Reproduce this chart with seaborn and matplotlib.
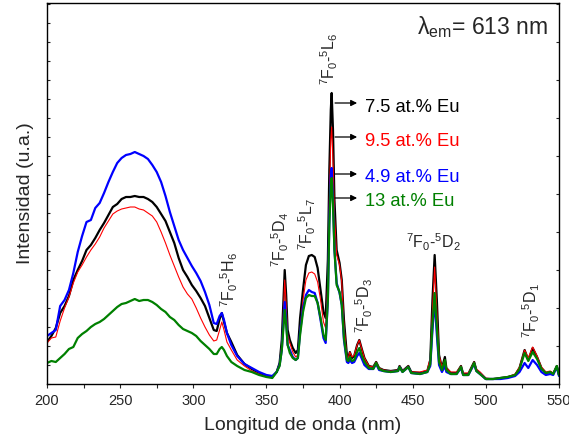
import numpy as np
import pandas as pd
import matplotlib
matplotlib.use("Agg")
import matplotlib.pyplot as plt
from matplotlib.ticker import MultipleLocator, NullFormatter
import seaborn as sns

# ---------------- data (arbitrary intensity units) ----------------
wavelength = [200, 203, 206, 209, 212, 215, 218, 221, 224, 227,
              230, 233, 236, 239, 242, 245, 248, 251, 254, 257,
              260, 263, 266, 269, 272, 275, 278, 281, 284, 287,
              290, 293, 296, 299, 302, 305, 308, 311, 314, 316,
              318, 319.5, 321, 323, 326, 330, 335, 340, 345, 350,
              354, 357, 359, 360.5, 361.5, 362.5, 363.5, 364.5, 366, 368,
              370, 371.5, 373, 375, 377, 379, 381, 383, 385, 387,
              389, 390.5, 392, 393, 394, 394.6, 395.5, 396.5, 398, 400,
              401.5, 403, 405, 406, 407, 408.5, 410, 412, 413.5, 415,
              417, 420, 423, 425, 427, 430, 435, 440, 441, 443,
              447, 449, 455, 460, 462, 463.5, 465, 466.5, 468, 470,
              472, 473, 476, 480, 483, 484.5, 488, 492, 493.5, 496,
              500, 505, 510, 515, 520, 523, 526.5, 529, 532, 535,
              538, 541, 544, 546, 548.5, 550]

eu_7_5 = [42, 48, 56, 71, 78, 88, 104, 114, 123, 134,
          139, 146, 154, 161, 169, 177, 180, 185, 187, 187,
          188, 187, 187, 185, 182, 177, 170, 163, 152, 141,
          126, 114, 107, 99, 93, 86, 78, 66, 54, 53,
          65, 71, 62, 51, 42, 29, 20, 15, 11, 8,
          7, 12, 21, 44, 79, 114, 89, 54, 44, 36,
          31, 34, 66, 94, 119, 128, 129, 127, 116, 94,
          72, 66, 124, 214, 274, 291, 254, 184, 134, 121,
          104, 64, 29, 26, 32, 26, 28, 39, 44, 36,
          26, 18, 17, 22, 16, 14, 13, 14, 18, 13,
          18, 12, 11, 13, 24, 84, 129, 84, 29, 16,
          27, 16, 11, 11, 18, 10, 10, 22, 14, 11,
          5, 5, 6, 7, 9, 16, 34, 24, 36, 27,
          16, 11, 12, 10, 18, 9]

eu_9_5 = [41, 46, 47, 63, 76, 87, 101, 112, 119, 127,
          134, 140, 147, 156, 163, 170, 173, 175, 176, 177,
          177, 175, 174, 171, 168, 162, 152, 141, 129, 118,
          107, 97, 90, 85, 76, 66, 57, 49, 43, 44,
          54, 62, 54, 42, 34, 24, 18, 13, 10, 7,
          7, 12, 20, 39, 69, 104, 79, 49, 41, 32,
          27, 29, 54, 84, 104, 111, 112, 110, 102, 84,
          62, 56, 104, 184, 244, 257, 224, 169, 129, 119,
          102, 59, 27, 26, 32, 27, 29, 39, 44, 36,
          26, 18, 17, 22, 16, 14, 13, 14, 18, 13,
          18, 12, 12, 14, 26, 74, 117, 74, 29, 17,
          24, 16, 12, 12, 18, 11, 11, 22, 15, 12,
          6, 5, 6, 7, 10, 17, 34, 26, 37, 28,
          17, 12, 13, 11, 18, 9]

eu_4_9 = [48, 51, 54, 78, 84, 94, 111, 132, 148, 162,
          164, 176, 181, 191, 202, 212, 221, 226, 229, 230,
          232, 230, 228, 225, 219, 212, 202, 188, 172, 158,
          144, 134, 126, 118, 111, 103, 92, 79, 61, 60,
          68, 71, 64, 51, 39, 28, 20, 16, 12, 9,
          8, 12, 19, 34, 59, 82, 64, 39, 34, 27,
          24, 26, 52, 76, 89, 94, 92, 91, 81, 64,
          46, 41, 84, 164, 209, 216, 184, 134, 101, 91,
          79, 44, 22, 21, 24, 21, 22, 28, 31, 26,
          19, 15, 15, 20, 14, 13, 12, 13, 17, 12,
          17, 11, 10, 12, 18, 54, 84, 49, 19, 12,
          18, 12, 10, 10, 16, 9, 9, 20, 13, 10,
          5, 5, 5, 6, 8, 12, 21, 16, 24, 19,
          12, 9, 10, 9, 17, 8]

eu_13 = [21, 23, 22, 26, 30, 35, 37, 46, 50, 53,
         57, 60, 62, 65, 69, 73, 77, 80, 81, 83,
         85, 83, 84, 84, 82, 79, 75, 72, 67, 64,
         59, 55, 53, 51, 48, 43, 39, 35, 30, 30,
         35, 37, 34, 28, 22, 18, 14, 12, 9, 7,
         6, 12, 18, 34, 54, 74, 59, 39, 31, 26,
         24, 26, 49, 72, 86, 89, 88, 88, 81, 66,
         49, 44, 84, 159, 199, 206, 179, 134, 99, 92,
         79, 46, 24, 23, 27, 23, 24, 32, 36, 29,
         22, 16, 15, 21, 15, 13, 12, 13, 17, 12,
         17, 11, 10, 12, 20, 59, 91, 56, 22, 14,
         24, 14, 10, 10, 17, 9, 9, 21, 13, 10,
         5, 5, 6, 7, 9, 15, 31, 23, 32, 25,
         15, 11, 12, 10, 18, 9]

series_names = ["7.5 at.% Eu", "9.5 at.% Eu", "4.9 at.% Eu", "13 at.% Eu"]
series_colors = ["#000000", "#ff0000", "#0000ff", "#008000"]
series_widths = [1.6, 0.8, 1.6, 1.6]
series_values = [eu_7_5, eu_9_5, eu_4_9, eu_13]

# arrow label anchor heights (peak at 394.6 nm for each sample)
label_heights = [281, 247, 210, 186]

x_ticks = [200, 250, 300, 350, 400, 450, 500, 550]

# ---------------- figure ----------------
sns.set_style("ticks")
plt.rcParams["font.family"] = ["Liberation Sans", "DejaVu Sans"]
plt.rcParams["mathtext.fontset"] = "custom"
plt.rcParams["mathtext.rm"] = "Liberation Sans"
plt.rcParams["mathtext.it"] = "Liberation Sans:italic"
plt.rcParams["mathtext.bf"] = "Liberation Sans:bold"

fig = plt.figure(figsize=(5.69, 4.47), dpi=100)
ax = fig.add_axes([47 / 569, 1 - 384 / 447, (559 - 47) / 569, (384 - 3) / 447])

frames = []
for name, vals in zip(series_names, series_values):
    frames.append(pd.DataFrame({"wl": wavelength, "I": vals, "sample": name}))
df = pd.concat(frames, ignore_index=True)

for name, col, lw in zip(series_names, series_colors, series_widths):
    sns.lineplot(data=df[df["sample"] == name], x="wl", y="I", color=col,
                 linewidth=lw, sort=False, estimator=None, ax=ax, legend=False)

ax.set_xlim(200, 550)
ax.set_ylim(0, 381)
ax.set_xticks(x_ticks)
ax.xaxis.set_minor_locator(MultipleLocator(25))
ax.yaxis.set_major_locator(MultipleLocator(38))
ax.yaxis.set_minor_locator(MultipleLocator(19))
ax.yaxis.set_major_formatter(NullFormatter())

for sp in ax.spines.values():
    sp.set_visible(True)
    sp.set_linewidth(1.0)
    sp.set_color("black")

ax.tick_params(axis="x", which="both", direction="out", length=3, width=0.8,
               labelsize=10.5, pad=4, top=False)
ax.tick_params(axis="y", which="both", direction="in", length=2.5, width=0.8,
               left=True, right=True, labelleft=False)
ax.tick_params(axis="y", which="minor", right=False)

ax.set_xlabel("Longitud de onda (nm)", fontsize=14, labelpad=7)
ax.set_ylabel("Intensidad (u.a.)", fontsize=14, labelpad=9)

# transition labels
tfs = 11.5
ax.text(324.5, 77, r"$^{7}$F$_{0}$-$^{5}$H$_{6}$", rotation=90, ha="center", va="bottom", fontsize=tfs)
ax.text(359.5, 117, r"$^{7}$F$_{0}$-$^{5}$D$_{4}$", rotation=90, ha="center", va="bottom", fontsize=tfs)
ax.text(377.7, 134, r"$^{7}$F$_{0}$-$^{5}$L$_{7}$", rotation=90, ha="center", va="bottom", fontsize=tfs)
ax.text(392.8, 299, r"$^{7}$F$_{0}$-$^{5}$L$_{6}$", rotation=90, ha="center", va="bottom", fontsize=tfs)
ax.text(417.0, 51, r"$^{7}$F$_{0}$-$^{5}$D$_{3}$", rotation=90, ha="center", va="bottom", fontsize=tfs)
ax.text(464.5, 131, r"$^{7}$F$_{0}$-$^{5}$D$_{2}$", rotation=0, ha="center", va="bottom", fontsize=tfs)
ax.text(530.8, 46, r"$^{7}$F$_{0}$-$^{5}$D$_{1}$", rotation=90, ha="center", va="bottom", fontsize=tfs)

# arrow labels for samples
for name, col, h in zip(series_names, series_colors, label_heights):
    ax.annotate("", xy=(412.0, h), xytext=(396.9, h),
                arrowprops=dict(arrowstyle="-|>", color="black", lw=0.9,
                                mutation_scale=9, shrinkA=0, shrinkB=0))
    ax.text(417.4, h - 4, name, color=col, ha="left", va="center", fontsize=13.2)

ax.text(0.978, 0.937, r"λ$_{\mathregular{em}}$= 613 nm", transform=ax.transAxes,
        ha="right", va="center", fontsize=16.5)

fig.savefig("out.png", dpi=100)
